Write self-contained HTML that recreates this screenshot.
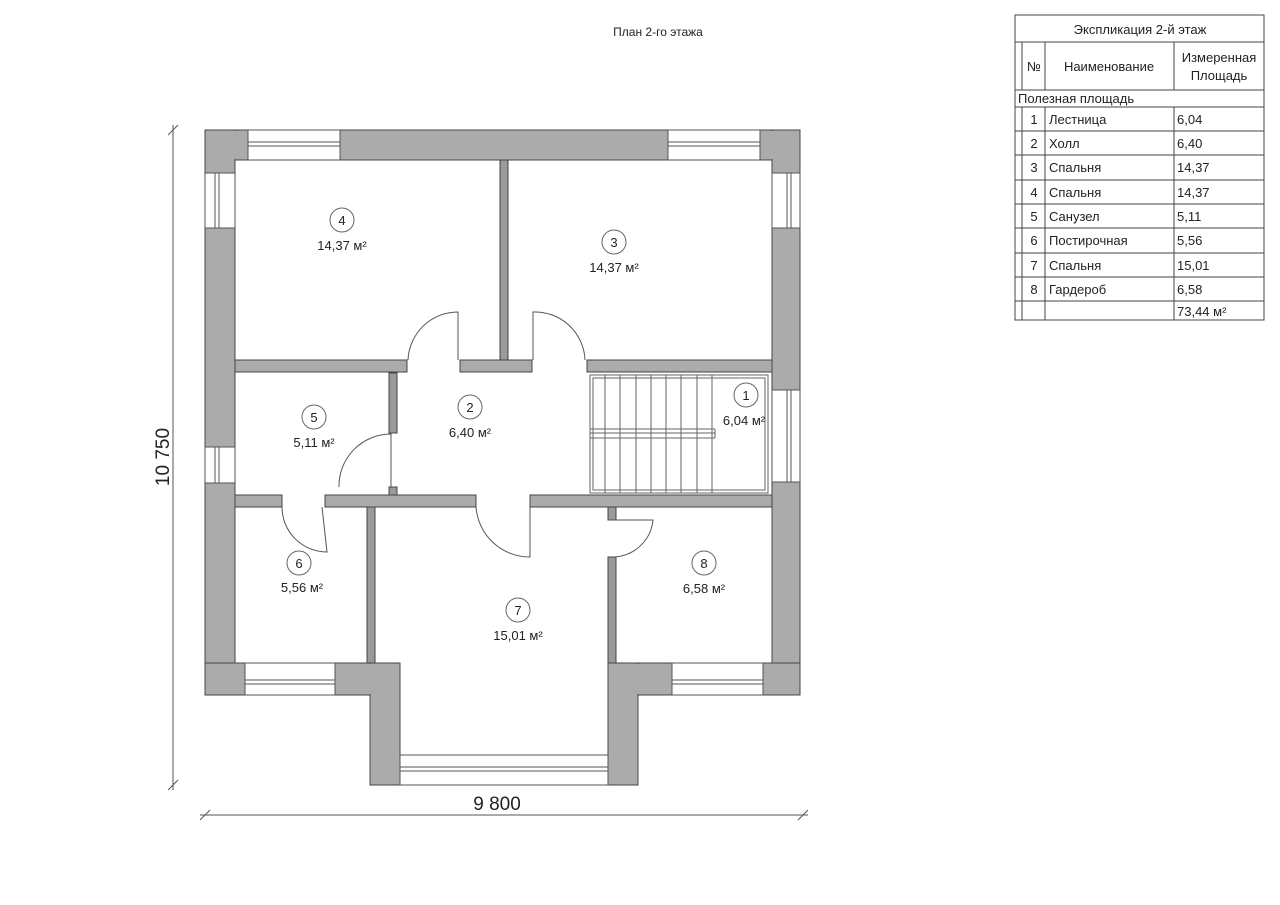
<!DOCTYPE html>
<html><head><meta charset="utf-8"><style>
html,body{margin:0;padding:0;background:#fff;}
svg{display:block;font-family:"Liberation Sans","DejaVu Sans",sans-serif;}
</style></head><body>
<svg width="1280" height="905" viewBox="0 0 1280 905" xmlns="http://www.w3.org/2000/svg">
<g fill="#ababab" stroke="#444" stroke-width="1">
<!-- top wall -->
<rect x="205" y="130" width="43" height="30"/>
<rect x="205" y="130" width="30" height="43"/>
<rect x="340" y="130" width="328" height="30"/>
<rect x="760" y="130" width="40" height="30"/>
<rect x="772" y="130" width="28" height="43"/>
<!-- left wall -->
<rect x="205" y="228" width="30" height="219"/>
<rect x="205" y="483" width="30" height="212"/>
<rect x="205" y="663" width="40" height="32"/>
<!-- right wall -->
<rect x="772" y="228" width="28" height="162"/>
<rect x="772" y="482" width="28" height="213"/>
<rect x="763" y="663" width="37" height="32"/>
<!-- bump -->
<rect x="335" y="663" width="65" height="32"/>
<rect x="370" y="663" width="30" height="122"/>
<rect x="608" y="663" width="64" height="32"/>
<rect x="608" y="663" width="30" height="122"/>
<!-- interior -->
<rect x="235" y="360" width="172" height="12"/>
<rect x="460" y="360" width="72" height="12"/>
<rect x="587" y="360" width="185" height="12"/>
<rect x="235" y="495" width="47" height="12"/>
<rect x="325" y="495" width="151" height="12"/>
<rect x="530" y="495" width="242" height="12"/>
</g>
<g fill="#ababab" stroke="none">
<rect x="206" y="664" width="38" height="30"/><rect x="336" y="664" width="63" height="30"/><rect x="371" y="664" width="28" height="120"/>
<rect x="609" y="664" width="62" height="30"/><rect x="609" y="664" width="28" height="120"/><rect x="764" y="664" width="35" height="30"/>
<rect x="206" y="131" width="41" height="28"/><rect x="773" y="131" width="26" height="41"/><rect x="761" y="131" width="38" height="28"/>
</g>
<!-- thin partitions -->
<g fill="#9a9a9a" stroke="#444" stroke-width="1">
<rect x="500" y="160" width="8" height="200"/>
<rect x="389" y="373" width="8" height="60"/>
<rect x="389" y="487" width="8" height="8"/>
<rect x="367" y="507" width="8" height="156"/>
<rect x="608" y="507" width="8" height="13"/>
<rect x="608" y="557" width="8" height="106"/>
</g>
<!-- windows -->
<g fill="none" stroke="#555" stroke-width="1">
<rect x="248" y="130" width="92" height="30"/><line x1="248" y1="142" x2="340" y2="142"/><line x1="248" y1="146" x2="340" y2="146"/>
<rect x="668" y="130" width="92" height="30"/><line x1="668" y1="142" x2="760" y2="142"/><line x1="668" y1="146" x2="760" y2="146"/>
<rect x="205" y="173" width="30" height="55"/><line x1="215" y1="173" x2="215" y2="228"/><line x1="219" y1="173" x2="219" y2="228"/>
<rect x="205" y="447" width="30" height="36"/><line x1="215" y1="447" x2="215" y2="483"/><line x1="219" y1="447" x2="219" y2="483"/>
<rect x="772" y="173" width="28" height="55"/><line x1="787" y1="173" x2="787" y2="228"/><line x1="791" y1="173" x2="791" y2="228"/>
<rect x="772" y="390" width="28" height="92"/><line x1="787" y1="390" x2="787" y2="482"/><line x1="791" y1="390" x2="791" y2="482"/>
<rect x="245" y="663" width="90" height="32"/><line x1="245" y1="680" x2="335" y2="680"/><line x1="245" y1="684" x2="335" y2="684"/>
<rect x="672" y="663" width="91" height="32"/><line x1="672" y1="680" x2="763" y2="680"/><line x1="672" y1="684" x2="763" y2="684"/>
<rect x="400" y="755" width="208" height="30"/><line x1="400" y1="767" x2="608" y2="767"/><line x1="400" y1="771" x2="608" y2="771"/>
</g>
<!-- stairs -->
<g fill="none" stroke="#666" stroke-width="1">
<rect x="590" y="375" width="178" height="118"/>
<rect x="593" y="378" width="172" height="112"/>
<line x1="590" y1="429" x2="715" y2="429"/><line x1="590" y1="433" x2="715" y2="433"/><line x1="590" y1="438" x2="715" y2="438"/><line x1="715" y1="429" x2="715" y2="438"/>
<line x1="605" y1="375" x2="605" y2="493"/><line x1="620" y1="375" x2="620" y2="493"/><line x1="636" y1="375" x2="636" y2="493"/><line x1="651" y1="375" x2="651" y2="493"/><line x1="666" y1="375" x2="666" y2="493"/><line x1="681" y1="375" x2="681" y2="493"/><line x1="697" y1="375" x2="697" y2="493"/><line x1="712" y1="375" x2="712" y2="493"/>
</g>
<!-- doors -->
<g fill="none" stroke="#555" stroke-width="1">
<path d="M408 360 A50 50 0 0 1 458 312 L458 360"/>
<path d="M585 360 A50 50 0 0 0 533 312 L533 360"/>
<path d="M339 487 A52 52 0 0 1 391 434 L391 487"/>
<path d="M282 507 A45 45 0 0 0 327 552 L322 507"/>
<path d="M476 507 A54 54 0 0 0 530 557 L530 507"/>
<path d="M612 520 L653 520 A41 41 0 0 1 612 557"/>
</g>
<!-- room labels -->
<g fill="none" stroke="#666" stroke-width="1">
<circle cx="342" cy="220" r="12"/><circle cx="614" cy="242" r="12"/><circle cx="314" cy="417" r="12"/><circle cx="470" cy="407" r="12"/>
<circle cx="746" cy="395" r="12"/><circle cx="299" cy="563" r="12"/><circle cx="518" cy="610" r="12"/><circle cx="704" cy="563" r="12"/>
</g>
<g font-size="13" fill="#222" text-anchor="middle">
<text x="342" y="225">4</text><text x="342" y="250">14,37 м²</text>
<text x="614" y="247">3</text><text x="614" y="272">14,37 м²</text>
<text x="314" y="422">5</text><text x="314" y="447">5,11 м²</text>
<text x="470" y="412">2</text><text x="470" y="437">6,40 м²</text>
<text x="746" y="400">1</text><text x="744" y="425">6,04 м²</text>
<text x="299" y="568">6</text><text x="302" y="592">5,56 м²</text>
<text x="518" y="615">7</text><text x="518" y="640">15,01 м²</text>
<text x="704" y="568">8</text><text x="704" y="593">6,58 м²</text>
<text x="658" y="36" font-size="12">План 2-го этажа</text>
</g>
<!-- dims -->
<g stroke="#555" stroke-width="1">
<line x1="173" y1="125" x2="173" y2="790"/><line x1="168" y1="135" x2="178" y2="125"/><line x1="168" y1="790" x2="178" y2="780"/>
<line x1="200" y1="815" x2="808" y2="815"/><line x1="200" y1="820" x2="210" y2="810"/><line x1="798" y1="820" x2="808" y2="810"/>
</g>
<text x="497" y="810" font-size="19" text-anchor="middle" fill="#222">9 800</text>
<text transform="translate(169,457) rotate(-90)" font-size="19" text-anchor="middle" fill="#222">10 750</text>
<!-- table -->
<g fill="none" stroke="#444" stroke-width="1">
<rect x="1015" y="15" width="249" height="305"/>
<line x1="1015" y1="42" x2="1264" y2="42"/>
<line x1="1015" y1="90" x2="1264" y2="90"/>
<line x1="1015" y1="107" x2="1264" y2="107"/>
<line x1="1022" y1="42" x2="1022" y2="90"/><line x1="1022" y1="107" x2="1022" y2="320"/>
<line x1="1045" y1="42" x2="1045" y2="90"/><line x1="1045" y1="107" x2="1045" y2="320"/>
<line x1="1174" y1="42" x2="1174" y2="90"/><line x1="1174" y1="107" x2="1174" y2="320"/>
<line x1="1015" y1="131" x2="1264" y2="131"/><line x1="1015" y1="155" x2="1264" y2="155"/><line x1="1015" y1="180" x2="1264" y2="180"/><line x1="1015" y1="204" x2="1264" y2="204"/><line x1="1015" y1="228" x2="1264" y2="228"/><line x1="1015" y1="253" x2="1264" y2="253"/><line x1="1015" y1="277" x2="1264" y2="277"/><line x1="1015" y1="301" x2="1264" y2="301"/>
</g>
<g font-size="13" fill="#222">
<text x="1140" y="34" text-anchor="middle">Экспликация 2-й этаж</text>
<text x="1034" y="71" text-anchor="middle">№</text>
<text x="1109" y="71" text-anchor="middle">Наименование</text>
<text x="1219" y="62" text-anchor="middle">Измеренная</text>
<text x="1219" y="80" text-anchor="middle">Площадь</text>
<text x="1018" y="103">Полезная площадь</text>
<g text-anchor="middle"><text x="1034" y="124">1</text><text x="1034" y="148">2</text><text x="1034" y="172">3</text><text x="1034" y="197">4</text><text x="1034" y="221">5</text><text x="1034" y="245">6</text><text x="1034" y="270">7</text><text x="1034" y="294">8</text></g>
<text x="1049" y="124">Лестница</text><text x="1049" y="148">Холл</text><text x="1049" y="172">Спальня</text><text x="1049" y="197">Спальня</text><text x="1049" y="221">Санузел</text><text x="1049" y="245">Постирочная</text><text x="1049" y="270">Спальня</text><text x="1049" y="294">Гардероб</text>
<text x="1177" y="124">6,04</text><text x="1177" y="148">6,40</text><text x="1177" y="172">14,37</text><text x="1177" y="197">14,37</text><text x="1177" y="221">5,11</text><text x="1177" y="245">5,56</text><text x="1177" y="270">15,01</text><text x="1177" y="294">6,58</text><text x="1177" y="316">73,44 м²</text>
</g>
</svg>
</body></html>
